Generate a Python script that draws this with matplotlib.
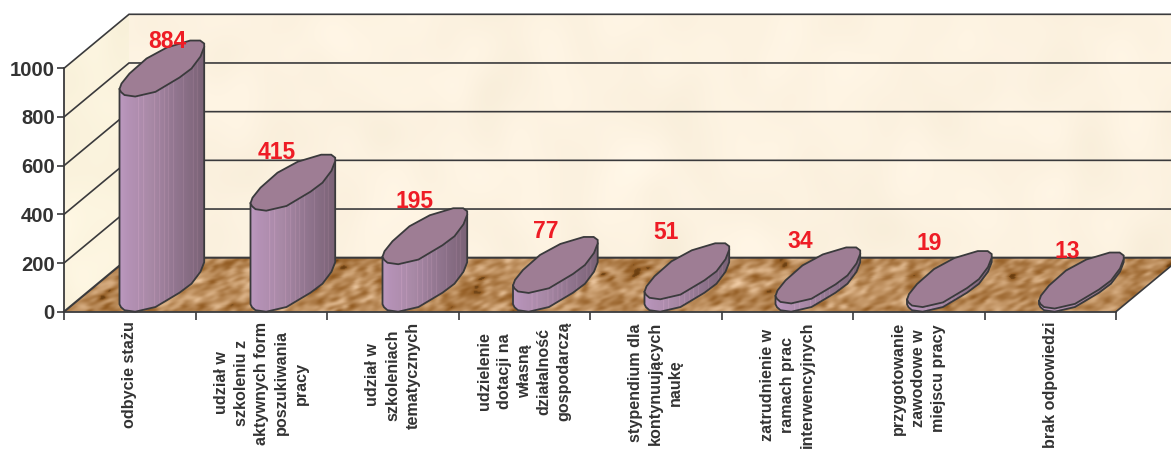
import numpy as np
import matplotlib
matplotlib.use('Agg')
import matplotlib.pyplot as plt
from matplotlib.colors import LinearSegmentedColormap
from matplotlib.patches import Polygon
from matplotlib.collections import PolyCollection

plt.rcParams['font.family'] = ['Liberation Sans', 'DejaVu Sans']

# dane
kategorie = ['odbycie stażu',
             'udział w\nszkoleniu z\naktywnych form\nposzukiwania\npracy',
             'udział w\nszkoleniach\ntematycznych',
             'udzielenie\ndotacji na\nwłasną\ndziałalność\ngospodarczą',
             'stypendium dla\nkontynuujących\nnaukę',
             'zatrudnienie w\nramach prac\ninterwencyjnych',
             'przygotowanie\nzawodowe w\nmiejscu pracy',
             'brak odpowiedzi']
wartosci = [884, 415, 195, 77, 51, 34, 19, 13]
os_y = [0, 200, 400, 600, 800, 1000]

# wielkosc jednej kategorii i 1 jednostki osi w pikselach
PX_X = 131.5
PX_Y = 0.2434
GLEB_X = 65 / PX_X
GLEB_Y = 54 / PX_Y
N = len(wartosci)

# podstawa kolumny (piksele od lewego brzegu i od osi)
podstawa = np.array([(0, 7.5), (1.5, 4.5), (5, 1.5), (15.7, 0), (36, 4.7), (60, 19), (72, 28),
                     (81, 40), (84.7, 49.5), (84.7, 53), (80.7, 56), (70.7, 56),
                     (47.3, 49), (27, 38), (10, 23), (2, 13)])
dol = podstawa[:9]
PASKI_JASNE = [19, 24, 35, 40, 45, 49, 54, 64, 74, 78]

# lewe brzegi kolumn i polozenie etykiet, tez w pikselach
lewy = [55.5, 55, 55.5, 54.5, 54.5, 54, 54, 54.5]
etyk_x = [47.5, 26, 32, 33, 22, 25, 22, 28]
etyk_y = [55, 58, 63, 61, 67, 62, 64, 57]

kolumna = LinearSegmentedColormap.from_list(
    'kolumna', [(0, '#bc99c0'), (0.1, '#b592b6'), (0.35, '#aa8aa8'),
                (0.65, '#937791'), (1, '#7b6377')])


def plamy(ksztalt, sx, sy, seed):
    # rozmyty szum do faktury scian i podlogi
    rng = np.random.RandomState(seed)
    f = np.fft.fft2(rng.standard_normal(ksztalt))
    fy = np.fft.fftfreq(ksztalt[0])[:, None]
    fx = np.fft.fftfreq(ksztalt[1])[None, :]
    w = np.fft.ifft2(f * np.exp(-2 * np.pi ** 2 * ((sx * fx) ** 2 + (sy * fy) ** 2))).real
    return w / w.std()


fig = plt.figure(figsize=(11.71, 4.5), dpi=100)
ax = fig.add_axes([64 / 1171, (450 - 311.7) / 450, N * PX_X / 1171, 243.4 / 450])
ax.patch.set_visible(False)


def faktura(img, naroza):
    # obraz przyciety do wielokata sciany
    im = ax.imshow(img, extent=(-0.1, N + 1, -20, 1300), aspect='auto', zorder=0,
                   interpolation='bilinear', origin='lower')
    im.set_clip_box(fig.bbox)
    im.set_clip_path(Polygon(naroza, transform=ax.transData))


# sciana tylna i boczna
s1 = plamy((160, 700), 9, 9, 1)[..., None]
tylna = np.array([0.990, 0.950, 0.880]) + 0.005 * s1 * np.array([1, 1.1, 1.6])
faktura(np.clip(tylna, 0, 1), [(GLEB_X, GLEB_Y), (GLEB_X, 1000 + GLEB_Y),
                               (N + GLEB_X, 1000 + GLEB_Y), (N + GLEB_X, GLEB_Y)])
s2 = plamy((160, 700), 8, 8, 2)[..., None]
boczna = np.array([0.985, 0.955, 0.870]) + 0.005 * s2 * np.array([1, 1.1, 1.6])
faktura(np.clip(boczna, 0, 1), [(0, 0), (0, 1000), (GLEB_X, 1000 + GLEB_Y), (GLEB_X, GLEB_Y)])

# podloga, plamy pochylone zgodnie z perspektywa
s3 = 0.65 * plamy((330, 1300), 3.0, 2.0, 3) + 0.35 * plamy((330, 1300), 8, 4, 4)
s3 = np.array([np.roll(w, int(0.8 * r)) for r, w in enumerate(s3)])[..., None]
podloga = np.array([0.725, 0.540, 0.345]) + 0.085 * s3 * np.array([1, 1.2, 1.4])
podloga = np.where(s3 < -1.8, podloga * 0.80, podloga)
faktura(np.clip(podloga, 0, 1), [(0, 0), (GLEB_X, GLEB_Y), (N + GLEB_X, GLEB_Y), (N, 0)])

# linie siatki na scianach
KRAWEDZ = '#3a3a3c'
for v in os_y:
    if v > 0:
        ax.plot([0, GLEB_X, N + 1], [v, v + GLEB_Y, v + GLEB_Y], color=KRAWEDZ, lw=1.2,
                clip_on=False, zorder=1, solid_joinstyle='miter')
ax.plot([0, GLEB_X, N + 1], [0, GLEB_Y, GLEB_Y], color=KRAWEDZ, lw=1.5, clip_on=False, zorder=1)
ax.plot([N, N + GLEB_X], [0, GLEB_Y], color=KRAWEDZ, lw=1.2, clip_on=False, zorder=1)

# kolumny
for i, v in enumerate(wartosci):
    x0 = i + lewy[i] / PX_X
    xs = x0 + podstawa[:, 0] / PX_X
    ys = podstawa[:, 1] / PX_Y

    # pelne tlo boku, zeby siatka nie przeswitywala miedzy paskami
    dx = x0 + dol[:, 0] / PX_X
    dy = dol[:, 1] / PX_Y
    ax.add_patch(Polygon(np.c_[np.r_[dx, dx[::-1]], np.r_[dy, dy[::-1] + v]], closed=True,
                         facecolor='#a088a0', edgecolor='none', clip_on=False,
                         zorder=2.9 + i * 0.01))

    # bok kolumny z waskich pionowych paskow
    krawedzie = np.linspace(dx[0], dx[-1], 86)
    paski = []
    kolory = []
    for k in range(len(krawedzie) - 1):
        xa, xb = krawedzie[k], krawedzie[k + 1]
        ya, yb = np.interp([xa, xb], dx, dy)
        paski.append([(xa, ya), (xb, yb), (xb, yb + v), (xa, ya + v)])
        c = np.array(kolumna(k / 84.0))
        if k in PASKI_JASNE:
            c[:3] = np.clip(c[:3] + np.array([0.055, 0.04, 0.04]), 0, 1)
        kolory.append(c)
    ax.add_collection(PolyCollection(paski, facecolors=kolory, edgecolors=kolory, linewidths=0.5,
                                     zorder=3 + i * 0.01, clip_on=False), autolim=False)
    obrys_x = np.r_[dx[0], dx, dx[-1]]
    obrys_y = np.r_[dy[0] + v, dy, dy[-1] + v]
    ax.plot(obrys_x, obrys_y, color=KRAWEDZ, lw=1.3, clip_on=False, zorder=3.2 + i * 0.01)

    # gorna scianka
    ax.add_patch(Polygon(np.c_[xs, ys + v], closed=True, facecolor='#9e7d94', edgecolor=KRAWEDZ,
                         lw=1.3, clip_on=False, zorder=3.4 + i * 0.01))

    ax.text(i + (lewy[i] + etyk_x[i]) / PX_X, v + etyk_y[i] / PX_Y, str(v), color='#ee1c25',
            fontsize=16.5, fontweight='bold', ha='center', va='center', zorder=6, clip_on=False)

# osie
ax.set_xlim(0, N)
ax.set_ylim(0, 1000)
for s in ['top', 'right']:
    ax.spines[s].set_visible(False)
for s in ['left', 'bottom']:
    ax.spines[s].set_color(KRAWEDZ)
    ax.spines[s].set_linewidth(1.3)
    ax.spines[s].set_zorder(2.5)

ax.set_yticks(os_y)
ax.set_yticklabels([str(v) for v in os_y], fontsize=14.6, fontweight='bold', color='#333333')
ax.tick_params(axis='y', length=5, width=1.2, color=KRAWEDZ, pad=1.5)

ax.set_xticks(np.arange(N + 1))
ax.set_xticklabels([])
ax.tick_params(axis='x', which='major', length=6, width=1.2, color=KRAWEDZ)
ax.set_xticks(np.arange(N) + 0.5, minor=True)
ax.set_xticklabels(kategorie, minor=True, rotation=90, fontsize=11.6, fontweight='bold',
                   color='#333333', va='top', ha='center', multialignment='center',
                   linespacing=1.42)
ax.tick_params(axis='x', which='minor', length=0, pad=7)

fig.savefig('out.png', dpi=100)
